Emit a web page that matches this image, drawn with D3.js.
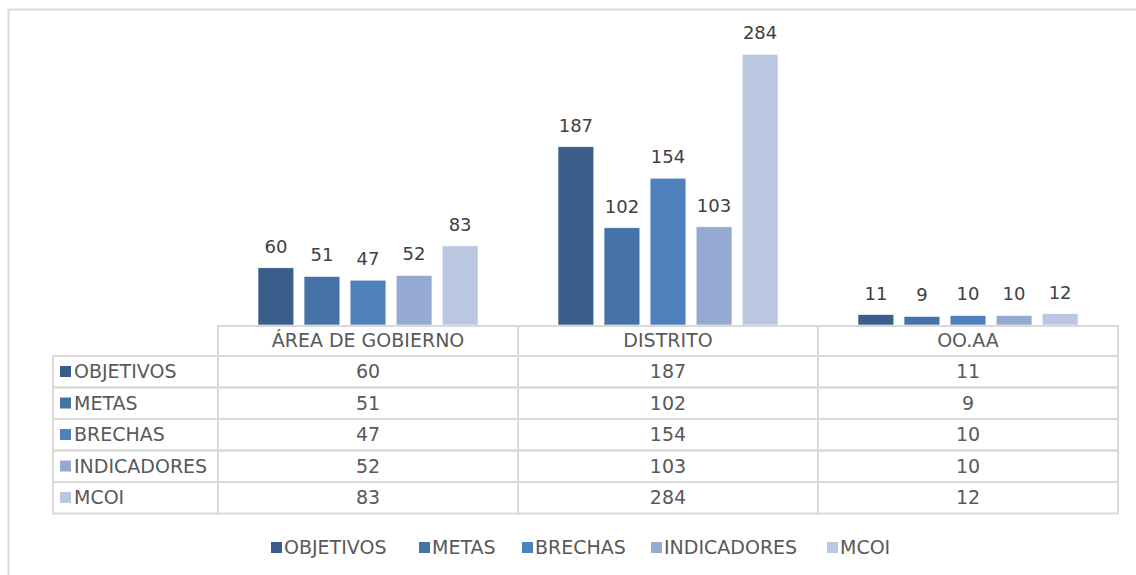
<!DOCTYPE html>
<html><head><meta charset="utf-8">
<script src="https://cdn.jsdelivr.net/npm/d3@7"></script>
<style>
html,body{margin:0;padding:0;background:#fff;}
svg{display:block;font-family:"DejaVu Sans",Verdana,sans-serif;}
</style></head>
<body>
<svg id="chart" width="1136" height="575"></svg>
<script>
const categories = ["ÁREA DE GOBIERNO", "DISTRITO", "OO.AA"];
const seriesNames = ["OBJETIVOS", "METAS", "BRECHAS", "INDICADORES", "MCOI"];
const objetivos = [60, 187, 11];
const metas = [51, 102, 9];
const brechas = [47, 154, 10];
const indicadores = [52, 103, 10];
const mcoi = [83, 284, 12];
const colors = ["#3A5E8C", "#4572A7", "#4F81BD", "#95A9D1", "#B9C7E1"];

const seriesValues = [objetivos, metas, brechas, indicadores, mcoi];
const series = seriesNames.map((n, i) => ({name: n, values: seriesValues[i], color: colors[i]}));

const svg = d3.select("#chart");
const textColor = "#595959";
const gridColor = "#D9D9D9";
const fs = 19;

// outer chart frame
svg.append("rect").attr("x", 8.5).attr("y", 9.5).attr("width", 1300).attr("height", 800)
  .attr("fill", "none").attr("stroke", gridColor).attr("stroke-width", 2);

const plotLeft = 218, plotRight = 1118, baseY = 325;
const x0 = d3.scaleBand().domain(categories).range([plotLeft, plotRight]).paddingInner(0).paddingOuter(0);
const x1 = d3.scaleBand().domain(seriesNames).range([40, 260]).paddingInner(0.2222);
const y = d3.scaleLinear().domain([0, 300]).range([baseY, 39]);

const groups = svg.append("g").selectAll("g").data(categories).join("g")
  .attr("transform", d => `translate(${x0(d)},0)`);

groups.each(function(cat, ci) {
  const g = d3.select(this);
  series.forEach(s => {
    const v = s.values[ci];
    g.append("rect")
      .attr("x", x1(s.name)).attr("width", x1.bandwidth())
      .attr("y", y(v)).attr("height", baseY - y(v))
      .attr("fill", s.color).attr("stroke", "#fff").attr("stroke-width", 0.6);
    g.append("text")
      .attr("x", x1(s.name) + x1.bandwidth() / 2)
      .attr("y", y(v) - 15)
      .attr("text-anchor", "middle").attr("fill", "#404040")
      .attr("font-size", 18).text(v);
  });
});

// data table
const tableLeft = 53, headerTop = 326, headerBottom = 356, rowH = 31.5;
const tg = svg.append("g");
const lineAttr = sel => sel.attr("stroke", gridColor).attr("stroke-width", 2).attr("fill", "none");

categories.forEach(c => {
  tg.append("rect").attr("x", x0(c)).attr("y", headerTop).attr("width", x0.bandwidth()).attr("height", headerBottom - headerTop).call(lineAttr);
  tg.append("text").attr("x", x0(c) + x0.bandwidth() / 2).attr("y", headerTop + 21)
    .attr("text-anchor", "middle").attr("fill", textColor).attr("font-size", fs).text(c);
});

series.forEach((s, ri) => {
  const top = headerBottom + ri * rowH;
  tg.append("rect").attr("x", tableLeft).attr("y", top).attr("width", plotLeft - tableLeft).attr("height", rowH).call(lineAttr);
  tg.append("rect").attr("x", tableLeft + 7).attr("y", top + 10).attr("width", 11).attr("height", 11).attr("fill", s.color);
  tg.append("text").attr("x", tableLeft + 21).attr("y", top + 22)
    .attr("fill", textColor).attr("font-size", fs).text(s.name);
  categories.forEach((c, ci) => {
    tg.append("rect").attr("x", x0(c)).attr("y", top).attr("width", x0.bandwidth()).attr("height", rowH).call(lineAttr);
    tg.append("text").attr("x", x0(c) + x0.bandwidth() / 2).attr("y", top + 22)
      .attr("text-anchor", "middle").attr("fill", textColor).attr("font-size", fs).text(s.values[ci]);
  });
});

// legend
const legendX = [271, 419, 522, 651, 827];
const lg = svg.append("g");
series.forEach((s, i) => {
  lg.append("rect").attr("x", legendX[i]).attr("y", 542).attr("width", 11).attr("height", 11).attr("fill", s.color);
  lg.append("text").attr("x", legendX[i] + 13).attr("y", 554)
    .attr("fill", textColor).attr("font-size", fs).text(s.name);
});
</script>
</body></html>
